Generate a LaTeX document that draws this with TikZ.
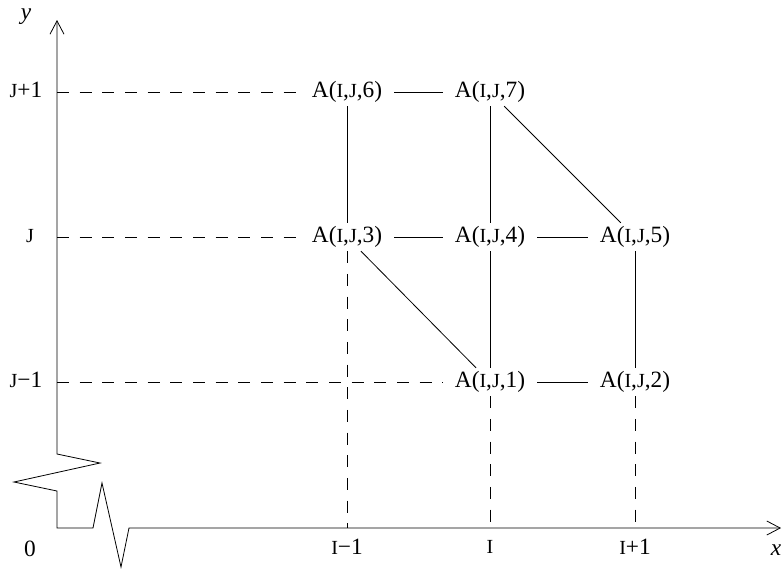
\documentclass[tikz,border=0pt]{standalone}
\usepackage{fontspec}
\setmainfont{Liberation Serif}
\usetikzlibrary{arrows.meta}

\newcommand{\smI}{{\fontsize{15}{17}\selectfont I}}
\newcommand{\smJ}{{\fontsize{15}{17}\selectfont J}}

\begin{document}
\begin{tikzpicture}[
  x=0.75pt,y=-0.75pt,
  every node/.style={font=\fontsize{17.5}{20}\selectfont},
  cell/.style={inner xsep=9pt,inner ysep=2.5pt},
  lab/.style={inner sep=1pt},
  link/.style={line width=0.6pt},
  guide/.style={line width=0.6pt,dash pattern=on 9pt off 8pt},
  axis/.style={line width=0.6pt,{Straight Barb[length=10pt,width=10.5pt]}-{Straight Barb[length=10pt,width=10.5pt]}}
]
\useasboundingbox (0,0) rectangle (784,569);

% grid cells
\node[cell] (a6) at (347,92) {A(\smI,\smJ,6)};
\node[cell] (a7) at (490,92) {A(\smI,\smJ,7)};
\node[cell] (a3) at (347,237) {A(\smI,\smJ,3)};
\node[cell] (a4) at (490,237) {A(\smI,\smJ,4)};
\node[cell] (a5) at (635,237) {A(\smI,\smJ,5)};
\node[cell] (a1) at (490,382) {A(\smI,\smJ,1)};
\node[cell] (a2) at (635,382) {A(\smI,\smJ,2)};

% axes with breaks
\draw[axis] (57,20) -- (57,454) -- (100,463) -- (14,482) -- (57,491) -- (57,528)
  -- (93,528) -- (102,483) -- (121,567) -- (129,528) -- (781,528);

\coordinate (yJp) at (57,92);
\coordinate (yJ) at (57,237);
\coordinate (yJm) at (57,382);
\coordinate (xIm) at (347,528);
\coordinate (xI) at (490,528);
\coordinate (xIp) at (635,528);

% axis labels
\node[lab] (ylab) at (26,17) {\textit{y}};
\node[lab] (xlab) at (776,550) {\textit{x}};
\node[lab] (zero) at (30,549) {0};
\node[lab] (lJp) at (26,90) {\smJ+1};
\node[lab] (lJ) at (30,236) {\smJ};
\node[lab] (lJm) at (26,380) {\smJ\textminus1};
\node[lab] (lIm) at (347,547) {\smI\textminus1};
\node[lab] (lI) at (490,547) {\smI};
\node[lab] (lIp) at (635,547) {\smI+1};

% guide lines
\draw[guide] (yJp) -- (a6.west);
\draw[guide] (yJ) -- (a3.west);
\draw[guide] (yJm) -- (a1.west);
\draw[guide] (a3.south) -- (xIm);
\draw[guide] (a1.south) -- (xI);
\draw[guide] (a2.south) -- (xIp);

% links
\draw[link] (a6) -- (a7);
\draw[link] (a3) -- (a4);
\draw[link] (a4) -- (a5);
\draw[link] (a1) -- (a2);
\draw[link] (a6) -- (a3);
\draw[link] (a7) -- (a4);
\draw[link] (a4) -- (a1);
\draw[link] (a5) -- (a2);
\draw[link] (a7) -- (a5);
\draw[link] (a3) -- (a1);
\end{tikzpicture}
\end{document}
